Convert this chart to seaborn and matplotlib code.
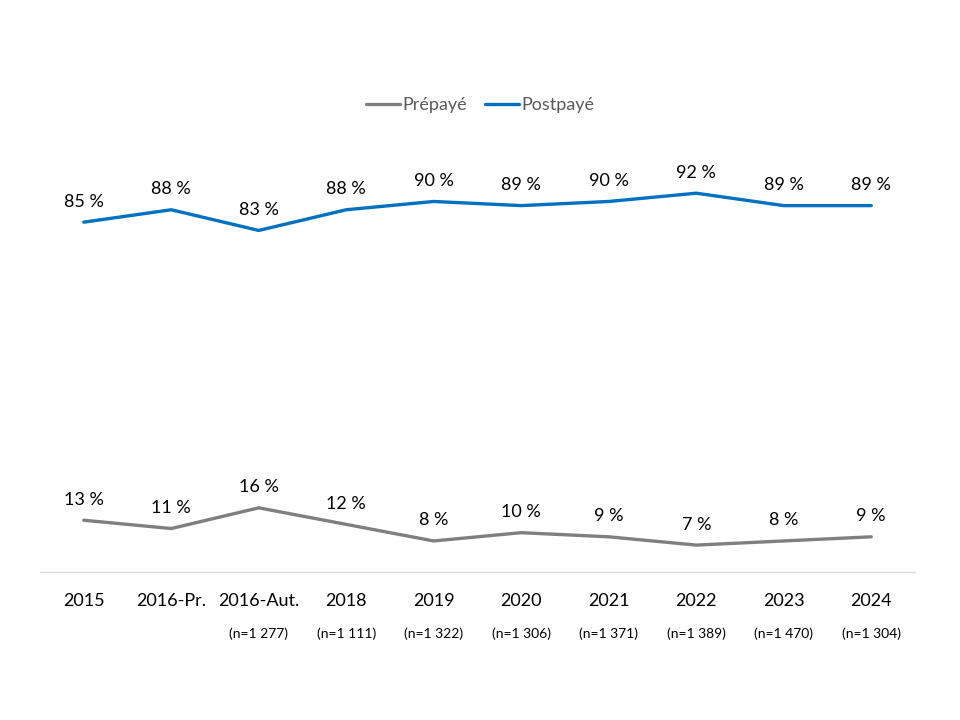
import matplotlib
matplotlib.use("Agg")
import matplotlib.pyplot as plt
import seaborn as sns
import pandas as pd

categories = ["2015", "2016-Pr.", "2016-Aut.", "2018", "2019", "2020", "2021", "2022", "2023", "2024"]
prepaye = [13, 11, 16, 12, 8, 10, 9, 7, 8, 9]
postpaye = [85, 88, 83, 88, 90, 89, 90, 92, 89, 89]
sample_sizes = ["", "", "(n=1 277)", "(n=1 111)", "(n=1 322)", "(n=1 306)", "(n=1 371)", "(n=1 389)", "(n=1 470)", "(n=1 304)"]
series_names = ["Prépayé", "Postpayé"]
colors = ["#7f7f7f", "#0070c0"]

sns.set_theme(style="white")
plt.rcParams["font.family"] = ["Lato", "DejaVu Sans"]

df = pd.DataFrame({
    "Année": categories * 2,
    "Valeur": prepaye + postpaye,
    "Série": [series_names[0]] * len(categories) + [series_names[1]] * len(categories),
})

fig = plt.figure(figsize=(9.6, 7.2), dpi=100)
ax = fig.add_axes([40 / 960, 1 - 572 / 720, 875 / 960, (572 - 158) / 720])

sns.lineplot(data=df, x="Année", y="Valeur", hue="Série", hue_order=series_names,
             palette=colors, linewidth=2.4, sort=False, ax=ax, legend=False)

ax.set_xlim(-0.5, len(categories) - 0.5)
ax.set_ylim(0.5, 100.5)
ax.set_xlabel("")
ax.set_ylabel("")
ax.set_yticks([])
ax.set_xticks(range(len(categories)))
ax.set_xticklabels(categories, fontsize=13, color="#000000")
ax.tick_params(axis="x", length=0, pad=15)
for side in ["top", "right", "left"]:
    ax.spines[side].set_visible(False)
ax.spines["bottom"].set_color("#d9d9d9")
ax.spines["bottom"].set_linewidth(1)

for vals in (prepaye, postpaye):
    for i, v in enumerate(vals):
        ax.annotate(f"{v} %", (i, v), xytext=(0, 9), textcoords="offset points",
                    ha="center", va="bottom", fontsize=13, color="#000000")

for i, s in enumerate(sample_sizes):
    if s:
        ax.annotate(s, (i, 0), xycoords=("data", "axes fraction"), xytext=(0, -44.5),
                    textcoords="offset points", ha="center", va="center",
                    fontsize=10, color="#000000")

from matplotlib.lines import Line2D
handles = [Line2D([0], [0], color=c, linewidth=2.4) for c in colors]
fig.legend(handles, series_names, loc="center", bbox_to_anchor=(0.5, 1 - 105 / 720),
           ncol=2, frameon=False, fontsize=13, handlelength=1.9, handletextpad=0.1,
           columnspacing=1.0, labelcolor="#595959")

fig.savefig("out.png", dpi=100)
